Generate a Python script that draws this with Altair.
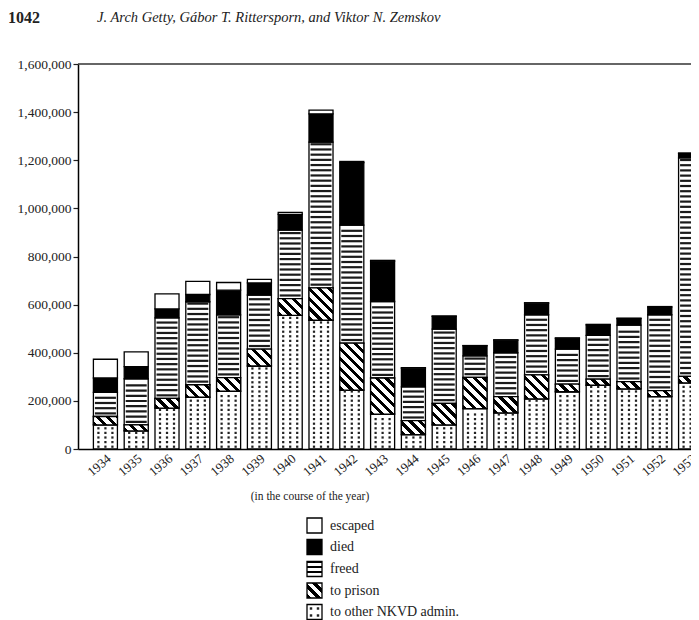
import math
import altair as alt
import pandas as pd

# ---------------- data (thousands of persons) ----------------
years = [str(y) for y in range(1934, 1954)]
categories = ["to other NKVD admin.", "to prison", "freed", "died", "escaped"]
admin   = [100, 75, 170, 215, 240, 345, 555, 535, 245, 145, 60, 100, 168, 150, 208, 238, 265, 250, 218, 275]
prison  = [35, 25, 40, 52, 57, 70, 70, 135, 195, 150, 58, 90, 130, 68, 100, 32, 25, 30, 25, 27]
freed   = [100, 192, 335, 345, 260, 225, 285, 605, 490, 318, 140, 308, 89, 182, 250, 145, 182, 235, 315, 908]
died    = [60, 50, 37, 30, 103, 50, 65, 118, 260, 168, 78, 53, 42, 52, 48, 45, 44, 27, 32, 18]
escaped = [78, 62, 63, 55, 32, 15, 8, 15, 5, 3, 2, 2, 1, 2, 2, 2, 2, 2, 2, 2]
y_ticks = [0, 200000, 400000, 600000, 800000, 1000000, 1200000, 1400000, 1600000]
legend_order = ["escaped", "died", "freed", "to prison", "to other NKVD admin."]

series = {"to other NKVD admin.": admin, "to prison": prison, "freed": freed,
          "died": died, "escaped": escaped}

# ---------------- geometry / style ----------------
PAD_L, PAD_T = 70, 56
VIEW_W = 683 - PAD_L          # visible part of the plot (figure is cropped on the right)
W, H = 640, 385               # full x range of the band scale, plot height
YMAX = 1600000
PX = H / YMAX
P_IN, P_OUT = 0.22, 0.5
STEP = W / (len(years) - P_IN + 2 * P_OUT)
BW = STEP * (1 - P_IN)
FONT = "Liberation Serif"

rows = []
for i, yr in enumerate(years):
    c = 0
    for cat in categories:
        v = series[cat][i] * 1000
        rows.append({"year": yr, "category": cat, "start": c, "end": c + v})
        c += v
df = pd.DataFrame(rows)

# horizontal stripes of "freed"
fs = 5.2 / PX
stripe_rows = []
for _, r in df[df.category == "freed"].iterrows():
    v = r.start + fs * 0.6
    while v < r.end - fs * 0.35:
        stripe_rows.append({"year": r.year, "v": v})
        v += fs
stripes = pd.DataFrame(stripe_rows)

# dots of "to other NKVD admin."
ds = 4.6 / PX
dot_rows = []
for _, r in df[df.category == "to other NKVD admin."].iterrows():
    v = r.start + ds * 0.5
    while v < r.end - ds * 0.3:
        dot_rows.append({"year": r.year, "v": v})
        v += ds
dots = pd.DataFrame(dot_rows)


def stripe_stops(n, frac):
    stops = []
    i = 0
    while i / n < 1:
        t0 = i / n
        t1 = min((i + frac) / n, 1)
        t2 = min((i + 1) / n, 1)
        stops += [alt.GradientStop(offset=t0, color="black"), alt.GradientStop(offset=t1, color="black"),
                  alt.GradientStop(offset=t1, color="white"), alt.GradientStop(offset=t2, color="white")]
        i += 1
    return stops


def diag_grad(w, h, period=7.0):
    h = max(h, 1.0)
    a = (w + h) * w / (w * w + h * h)
    L = (w + h) / math.sqrt(2)
    n = max(L / period, 1)
    return alt.LinearGradient(gradient="linear", x1=0, y1=1, x2=a, y2=1 - a * h / w,
                              stops=stripe_stops(n, 0.45))


def horiz_grad(n):
    return alt.LinearGradient(gradient="linear", x1=0, y1=0, x2=0, y2=1, stops=stripe_stops(n, 0.4))


X = alt.X("year:N", sort=years,
          scale=alt.Scale(domain=years, range=[0, W], paddingInner=P_IN, paddingOuter=P_OUT),
          axis=alt.Axis(title=None, ticks=False, labelAngle=-40, labelFont=FONT, labelFontSize=13,
                        labelColor="#222", domainColor="black", domainWidth=1.5, labelPadding=3))
YS = alt.Scale(domain=[0, YMAX], nice=False, zero=True)
YAX = alt.Axis(title=None, values=y_ticks, format=",.0f", grid=False, tickSize=5, tickColor="#222",
               tickWidth=1.2, domainColor="black", domainWidth=1.5, labelFont=FONT,
               labelFontSize=13.5, labelColor="#222", labelPadding=2)

base = alt.Chart(df).mark_bar(stroke="black", strokeWidth=1.3).encode(
    x=X,
    y=alt.Y("start:Q", scale=YS, axis=YAX),
    y2="end:Q",
    fill=alt.Fill("category:N", scale=alt.Scale(domain=categories,
                  range=["white", "white", "white", "black", "white"]), legend=None),
)

one = pd.DataFrame({"k": [0]})

# top frame line of the plot box
frame = alt.Chart(one).mark_rule(color="#333", strokeWidth=1.6).encode(
    x=alt.value(0), x2=alt.value(W), y=alt.value(0))

layers = [frame, base]

# diagonal hatch for "to prison"
for _, r in df[df.category == "to prison"].iterrows():
    h = (r.end - r.start) * PX
    layers.append(
        alt.Chart(pd.DataFrame([r])).mark_bar(fill=diag_grad(BW, h), stroke="black", strokeWidth=1.3)
        .encode(x=X, y=alt.Y("start:Q", scale=YS, axis=YAX), y2="end:Q")
    )

layers.append(
    alt.Chart(stripes).mark_tick(orient="horizontal", thickness=2.2, size=BW - 3, color="#1a1a1a", opacity=1)
    .encode(x=X, y=alt.Y("v:Q", scale=YS, axis=YAX))
)
for off in (-7, 0, 7):
    layers.append(
        alt.Chart(dots).mark_square(size=5, xOffset=off, color="#222", opacity=1)
        .encode(x=X, y=alt.Y("v:Q", scale=YS, axis=YAX))
    )


def text_layer(txt, x, y, size, align="left", baseline="middle", **kw):
    return alt.Chart(one).mark_text(text=txt, align=align, baseline=baseline, font=FONT,
                                    fontSize=size, color="#222", **kw).encode(
        x=alt.value(x), y=alt.value(y))


# header
layers.append(text_layer("1042", -70, -54, 16, baseline="top", fontWeight="bold"))
layers.append(text_layer("J. Arch Getty, Gábor T. Rittersporn, and Viktor N. Zemskov", 19, -53, 14.5,
                         baseline="top", fontStyle="italic"))
# axis caption
layers.append(text_layer("(in the course of the year)", 232, 433, 11.5, align="center"))

# legend
BX, BS, TX = 229, 15, 252
row_y = [461.5, 483, 505, 526.5, 548]
for lab, cy in zip(legend_order, row_y):
    if lab == "escaped":
        fill = "white"
    elif lab == "died":
        fill = "black"
    elif lab == "freed":
        fill = horiz_grad(3)
    elif lab == "to prison":
        fill = diag_grad(BS, BS, 7.0)
    else:
        fill = "white"
    layers.append(alt.Chart(one).mark_rect(fill=fill, stroke="black", strokeWidth=1.3).encode(
        x=alt.value(BX), x2=alt.value(BX + BS), y=alt.value(cy - BS / 2), y2=alt.value(cy + BS / 2)))
    if lab == "to other NKVD admin.":
        for dx in (-3.5, 3.5):
            for dy in (-3.5, 3.5):
                layers.append(alt.Chart(one).mark_square(size=6, color="#222", opacity=1).encode(
                    x=alt.value(BX + BS / 2 + dx), y=alt.value(cy + dy)))
    layers.append(text_layer(lab, TX, cy, 14))

chart = alt.layer(*layers).properties(
    width=VIEW_W, height=H,
    autosize=alt.AutoSizeParams(type="none"),
    padding={"left": PAD_L, "top": PAD_T, "right": 0, "bottom": 175},
).configure_view(strokeWidth=0)

chart.save("out.html", embed_options={"renderer": "svg", "actions": False})
